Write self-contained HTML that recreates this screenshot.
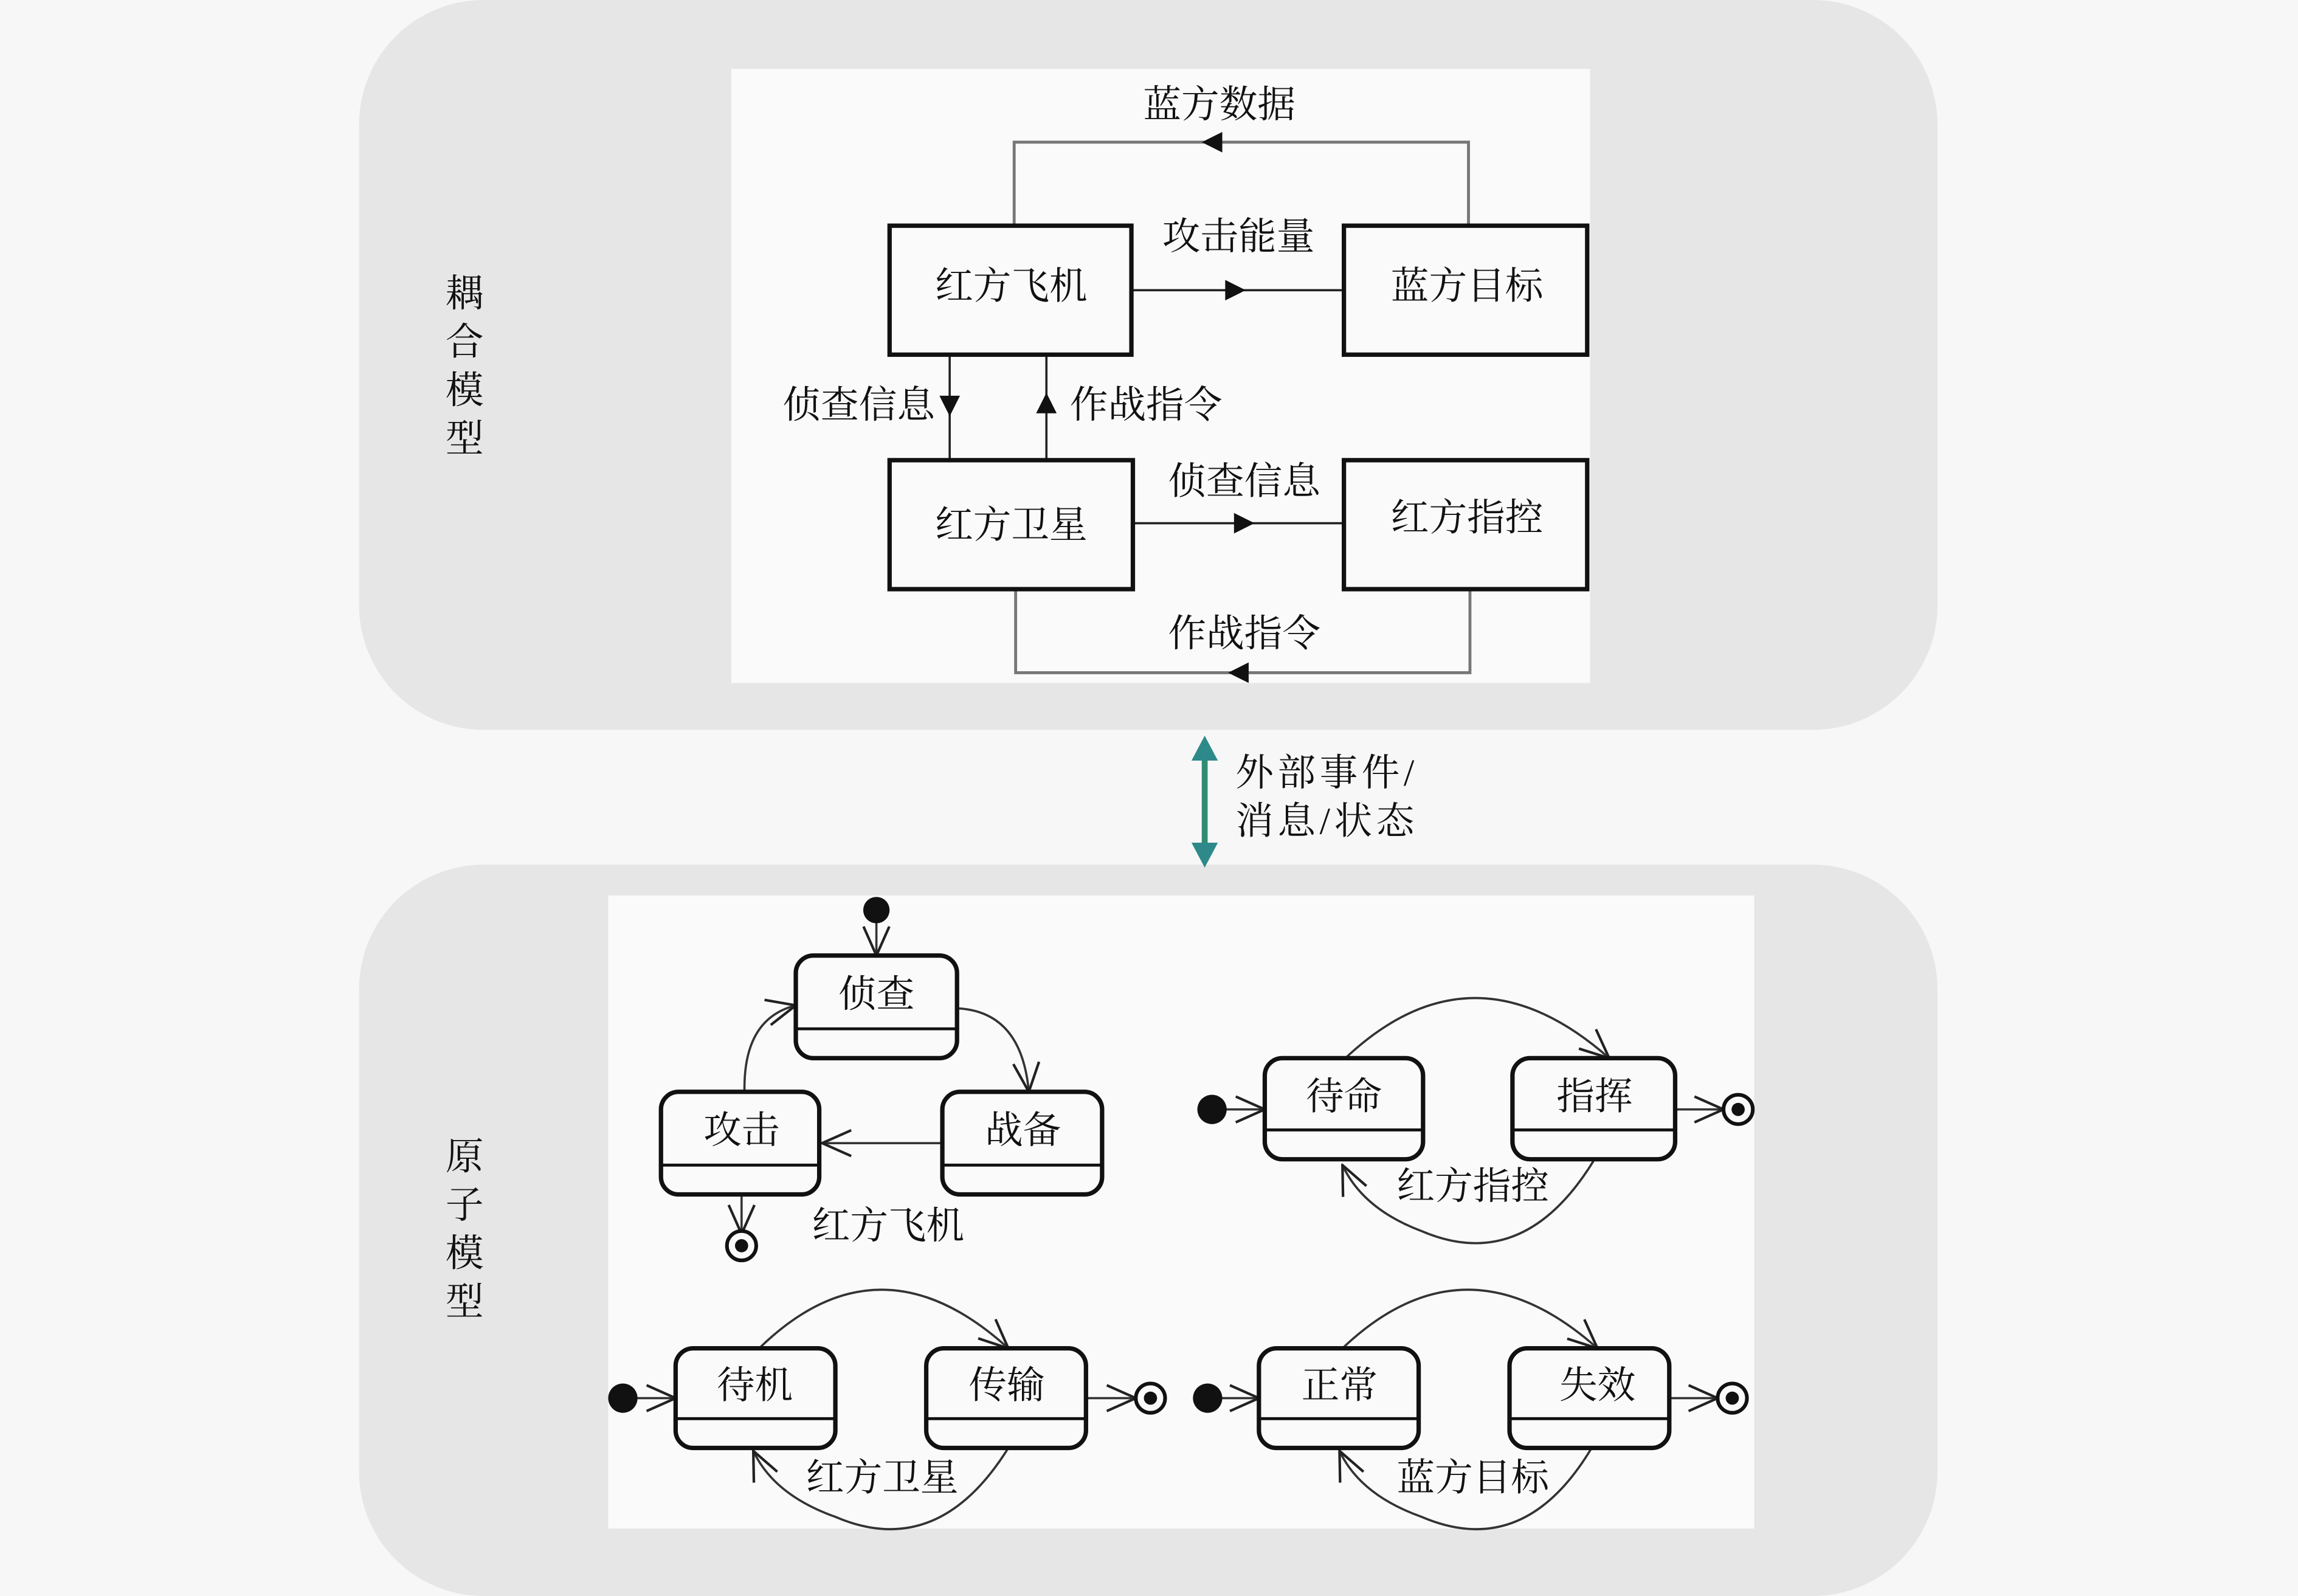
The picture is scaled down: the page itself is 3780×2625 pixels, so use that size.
<!DOCTYPE html>
<html><head><meta charset="utf-8"><style>
html,body{margin:0;padding:0;background:#f7f7f7;}
svg{display:block}
text{font-family:"Liberation Serif","Noto Serif CJK SC","Noto Sans CJK SC",serif;font-size:26px;fill:#111;}
</style></head><body>
<svg width="3780" height="2625" viewBox="0 0 1568 1089" preserveAspectRatio="none" xmlns="http://www.w3.org/2000/svg">
<defs>
<marker id="oa" viewBox="0 0 20 20" refX="19" refY="10" markerWidth="22" markerHeight="22" markerUnits="userSpaceOnUse" orient="auto"><path d="M1,2L19,10L1,18" fill="none" stroke="#222" stroke-width="1.6"/></marker>
</defs>
<rect width="1568" height="1089" fill="#f7f7f7"/>
<rect x="245" y="0" width="1077" height="498" rx="85" fill="#e6e6e6"/>
<rect x="245" y="590" width="1077" height="499" rx="85" fill="#e6e6e6"/>
<rect x="499" y="47" width="586" height="419" fill="#fafafa"/>
<rect x="415" y="611" width="782" height="432" fill="#fafafa"/>

<g text-anchor="middle">
<text x="317" y="209">耦</text><text x="317" y="242">合</text><text x="317" y="275">模</text><text x="317" y="308">型</text>
<text x="317" y="798">原</text><text x="317" y="831">子</text><text x="317" y="864">模</text><text x="317" y="897">型</text>
</g>

<g fill="none" stroke="#777" stroke-width="2">
<path d="M692,154V97H1002V154"/>
<path d="M693,402V459H1003V402"/>
</g>
<g fill="none" stroke="#222" stroke-width="1.5">
<path d="M772,198H917"/><path d="M648,242V314"/><path d="M714,314V242"/><path d="M773,357H917"/>
</g>
<g fill="#111">
<path d="M820,97l14,-7v14z"/>
<path d="M850,198l-14,-7v14z"/>
<path d="M648,284l-7,-14h14z"/>
<path d="M714,268l-7,14h14z"/>
<path d="M856,357l-14,-7v14z"/>
<path d="M838,459l14,-7v14z"/>
</g>
<g fill="#fafafa" stroke="#111" stroke-width="3">
<rect x="607" y="154" width="165" height="88"/>
<rect x="917" y="154" width="166" height="88"/>
<rect x="607" y="314" width="166" height="88"/>
<rect x="917" y="314" width="166" height="88"/>
</g>
<g text-anchor="middle">
<text x="690" y="204">红方飞机</text><text x="1001" y="204">蓝方目标</text>
<text x="690" y="367">红方卫星</text><text x="1001" y="362">红方指控</text>
<text x="832" y="80">蓝方数据</text><text x="845" y="170">攻击能量</text>
<text x="849" y="337">侦查信息</text><text x="849" y="441">作战指令</text>
</g>
<text x="638" y="285" text-anchor="end">侦查信息</text>
<text x="730" y="285">作战指令</text>

<line x1="822" y1="512" x2="822" y2="582" stroke="#2e8b74" stroke-width="4"/>
<path d="M822,502l-9,17h18z" fill="#2e8a8a"/>
<path d="M822,592l-9,-17h18z" fill="#2e8a8a"/>
<text x="843" y="536" textLength="122">外部事件/</text>
<text x="843" y="569" textLength="122">消息/状态</text>

<g fill="none" stroke="#333" stroke-width="1.5" marker-end="url(#oa)">
<path d="M598,628V652"/>
<path d="M653,688Q697,690 702,745"/>
<path d="M508,745Q507,695 543,686"/>
<path d="M643,780H561"/>
<path d="M506,815V842"/>
<path d="M835,757H863"/>
<path d="M918,722Q1005,640 1098,722"/>
<path d="M1088,791Q1040,870 970,840Q930,825 916,795"/>
<path d="M1143,757H1176"/>
<path d="M433,954H461"/>
<path d="M518,920Q600,840 688,920"/>
<path d="M688,988Q640,1065 570,1035Q528,1020 514,990"/>
<path d="M741,954H775"/>
<path d="M832,954H859"/>
<path d="M916,920Q1000,840 1090,920"/>
<path d="M1086,988Q1040,1065 970,1035Q928,1020 914,990"/>
<path d="M1139,954H1172"/>
</g>
<g fill="#111">
<circle cx="598" cy="621" r="9"/><circle cx="827" cy="757" r="10"/>
<circle cx="425" cy="954" r="10"/><circle cx="824" cy="954" r="10"/>
</g>
<g fill="#fafafa" stroke="#111" stroke-width="2.5">
<circle cx="506" cy="850" r="10"/><circle cx="1186" cy="757" r="10"/>
<circle cx="785" cy="954" r="10"/><circle cx="1182" cy="954" r="10"/>
</g>
<g fill="#111"><circle cx="506" cy="850" r="4.5"/><circle cx="1186" cy="757" r="4.5"/><circle cx="785" cy="954" r="4.5"/><circle cx="1182" cy="954" r="4.5"/></g>
<g fill="#fafafa" stroke="#111" stroke-width="3">
<rect x="543" y="652" width="110" height="70" rx="12"/>
<rect x="451" y="745" width="108" height="70" rx="12"/>
<rect x="643" y="745" width="109" height="70" rx="12"/>
<rect x="863" y="722" width="108" height="69" rx="12"/>
<rect x="1032" y="722" width="111" height="69" rx="12"/>
<rect x="461" y="920" width="109" height="68" rx="12"/>
<rect x="632" y="920" width="109" height="68" rx="12"/>
<rect x="859" y="920" width="109" height="68" rx="12"/>
<rect x="1030" y="920" width="109" height="68" rx="12"/>
</g>
<g stroke="#111" stroke-width="2">
<path d="M543,702H653M451,795H559M643,795H752M863,771H971M1032,771H1143M461,968H570M632,968H741M859,968H968M1030,968H1139"/>
</g>
<g text-anchor="middle">
<text x="598" y="687">侦查</text><text x="506" y="780">攻击</text><text x="698" y="780">战备</text>
<text x="917" y="757">待命</text><text x="1088" y="757">指挥</text>
<text x="515" y="954">待机</text><text x="687" y="954">传输</text>
<text x="914" y="954">正常</text><text x="1090" y="954">失效</text>
<text x="606" y="845">红方飞机</text><text x="1005" y="818">红方指控</text>
<text x="602" y="1017">红方卫星</text><text x="1005" y="1017">蓝方目标</text>
</g>
</svg>
</body></html>
